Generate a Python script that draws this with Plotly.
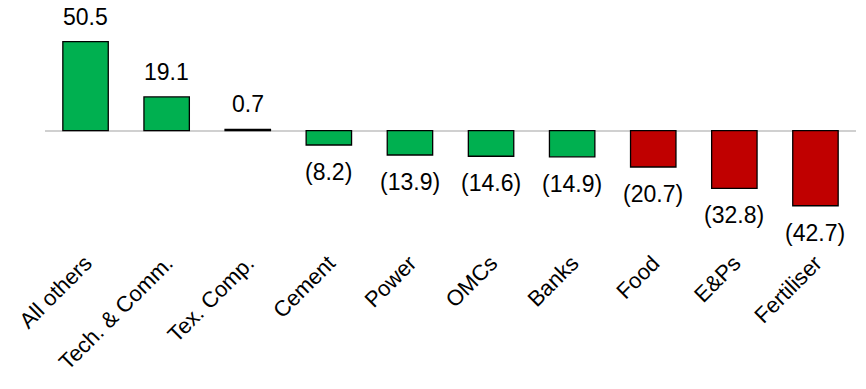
import plotly.graph_objects as go

# Sector contribution values
sectors = ["All others", "Tech. & Comm.", "Tex. Comp.", "Cement", "Power",
           "OMCs", "Banks", "Food", "E&Ps", "Fertiliser"]
values = [50.5, 19.1, 0.7, -8.2, -13.9, -14.6, -14.9, -20.7, -32.8, -42.7]
bar_colors = ["#00B050"] * 7 + ["#C00000"] * 3


def fmt(v):
    return f"({abs(v):.1f})" if v < 0 else f"{v:.1f}"


fig = go.Figure(
    go.Bar(
        x=sectors,
        y=values,
        width=0.56,
        marker=dict(color=bar_colors, line=dict(color="#000000", width=1.3)),
        hoverinfo="skip",
    )
)

font_family = "Liberation Sans, Arial, sans-serif"

for s, v in zip(sectors, values):
    fig.add_annotation(
        x=s, y=v, text=fmt(v), showarrow=False,
        yanchor="bottom" if v >= 0 else "top",
        yshift=10 if v >= 0 else -12,
        font=dict(family=font_family, size=23, color="#000000"),
    )

fig.update_layout(
    width=866, height=389,
    margin=dict(l=45, r=10, t=2, b=144),
    paper_bgcolor="white", plot_bgcolor="white",
    showlegend=False,
    font=dict(family=font_family, size=23, color="#000000"),
    xaxis=dict(
        tickangle=-45, showline=False, showgrid=False, ticks="",
        tickfont=dict(family=font_family, size=22, color="#000000"),
    ),
    yaxis=dict(
        range=[-65, 73], showticklabels=False, showgrid=False,
        zeroline=True, zerolinecolor="#d0d0d0", zerolinewidth=1.5,
        showline=False, ticks="",
    ),
)

fig.write_html("out.html")
